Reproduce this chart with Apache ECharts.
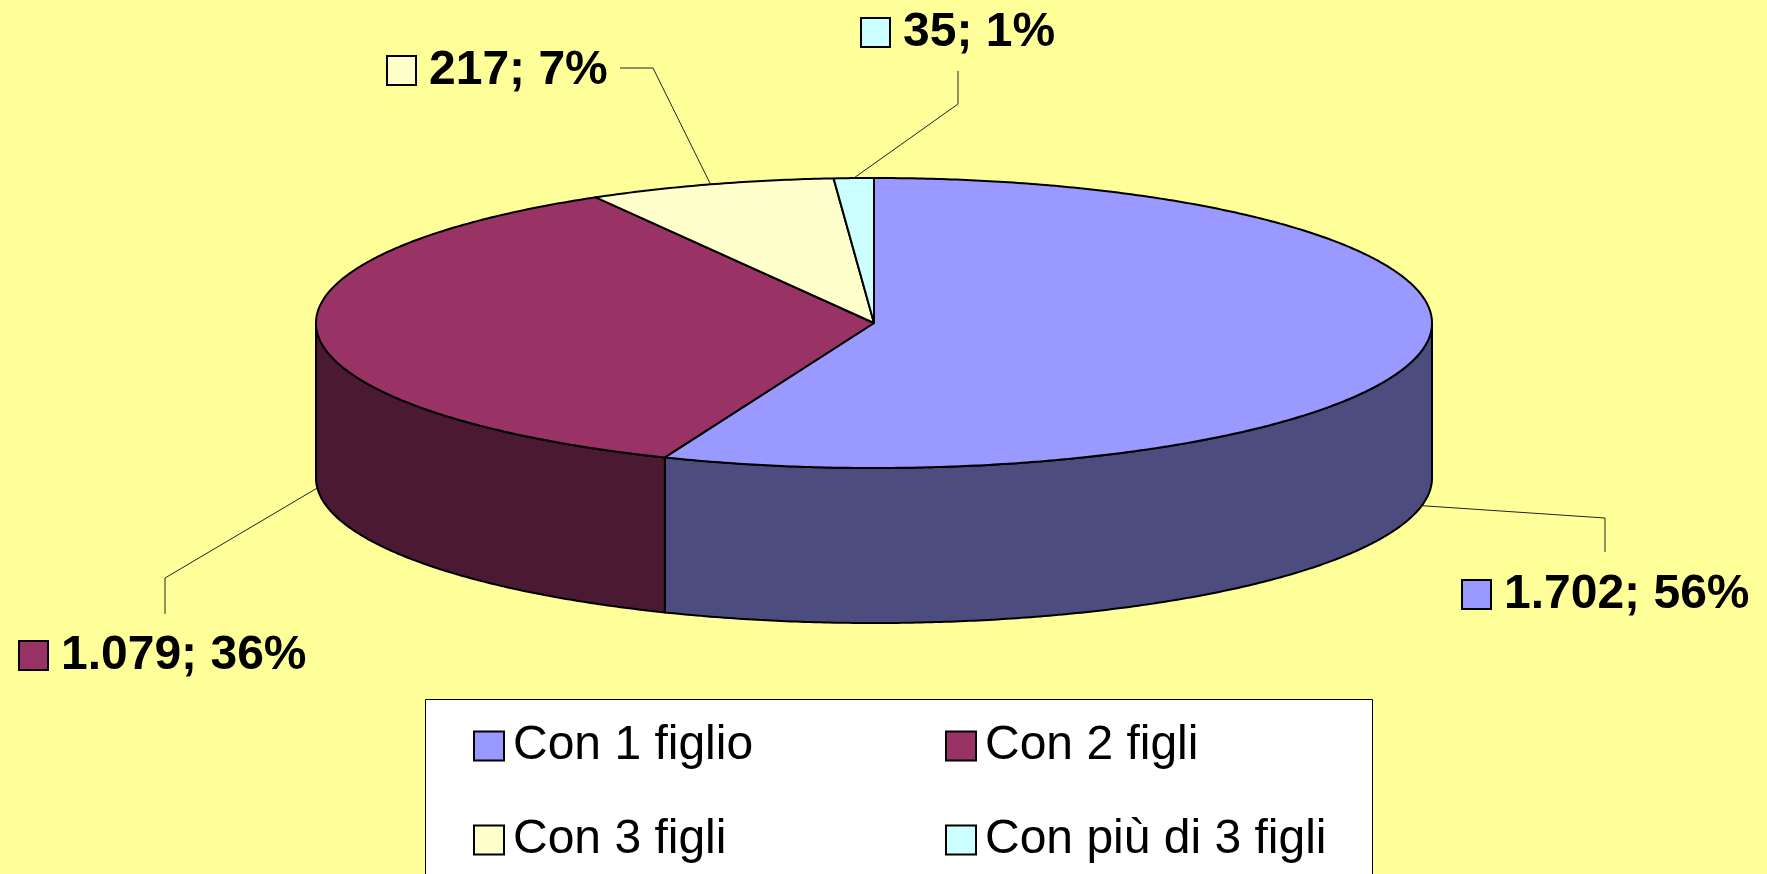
<!DOCTYPE html>
<html>
<head>
<meta charset="utf-8">
<script src="https://cdn.jsdelivr.net/npm/echarts@6/dist/echarts.min.js"></script>
<style>
html,body{margin:0;padding:0;background:#FFFF99;}
#chart{width:1767px;height:874px;}
</style>
</head>
<body>
<div id="chart"></div>
<script>
// ---- data ----
const categories = ['Con 1 figlio', 'Con 2 figli', 'Con 3 figli', 'Con più di 3 figli'];
const values = [1702, 1079, 217, 35];

// ---- styles ----
const topColors = ['#9999FF', '#993366', '#FFFFCC', '#CCFFFF'];
const sideColors = ['#4C4C7F', '#4C1933', '#7F7F66', '#667F7F'];
const FONT = '"Liberation Sans", Arial, Helvetica, sans-serif';

// ---- layout ----
const PIE = { cx: 874, cy: 323, rx: 558, ry: 145, depth: 155 };
const LABEL_LAYOUT = [
  { elbow: [1605, 518], end: [1605, 552], x: 1461, y: 595 },
  { elbow: [165, 578], end: [165, 614], x: 18, y: 656 },
  { elbow: [653, 68], end: [620, 68], x: 386, y: 71 },
  { elbow: [958, 104], end: [958, 71], x: 860, y: 33 }
];

const total = values.reduce((a, b) => a + b, 0);
const startAngles = [];
{ let acc = 0; values.forEach(v => { startAngles.push(acc / total * 360); acc += v; }); }

function pt(deg, dy) {
  const r = deg * Math.PI / 180;
  return [PIE.cx + PIE.rx * Math.sin(r), PIE.cy - PIE.ry * Math.cos(r) + (dy || 0)];
}
function arc(a0, a1, dy) {
  const pts = [];
  const n = Math.max(2, Math.ceil(Math.abs(a1 - a0) / 0.5));
  for (let i = 0; i <= n; i++) pts.push(pt(a0 + (a1 - a0) * i / n, dy));
  return pts;
}
function fmt(v) { return String(v).replace(/\B(?=(\d{3})+(?!\d))/g, '.'); }

function makeRender(idx) {
  return function (params, api) {
    const v = api.value(0);
    const a0 = startAngles[idx];
    const a1 = a0 + v / total * 360;
    const children = [];
    // side (front half only: 90..270 degrees clockwise from top)
    const s0 = Math.max(a0, 90), s1 = Math.min(a1, 270);
    if (s0 < s1) {
      const pts = arc(s0, s1, 0).concat(arc(s1, s0, PIE.depth));
      children.push({
        type: 'polygon', shape: { points: pts },
        style: { fill: sideColors[idx], stroke: '#000', lineWidth: 2, lineJoin: 'round' }
      });
    }
    // top face
    const topPts = [[PIE.cx, PIE.cy]].concat(arc(a0, a1, 0));
    children.push({
      type: 'polygon', shape: { points: topPts },
      style: { fill: topColors[idx], stroke: '#000', lineWidth: 2, lineJoin: 'round' }
    });
    // leader line
    const mid = (a0 + a1) / 2;
    const front = Math.cos(mid * Math.PI / 180) < 0;
    const anchor = pt(mid, front ? PIE.depth : 0);
    const L = LABEL_LAYOUT[idx];
    children.push({
      type: 'polyline', shape: { points: [anchor, L.elbow, L.end] },
      style: { stroke: '#222', lineWidth: 1, fill: null }
    });
    // label marker + text
    children.push({
      type: 'rect', shape: { x: L.x + 1, y: L.y - 15, width: 29, height: 29 },
      style: { fill: topColors[idx], stroke: '#000', lineWidth: 2 }
    });
    const pct = Math.round(v / total * 100);
    children.push({
      type: 'text',
      style: {
        text: fmt(v) + '; ' + pct + '%',
        x: L.x + 43, y: L.y,
        fill: '#000',
        font: 'bold 48px ' + FONT,
        align: 'left', verticalAlign: 'middle',
        textAlign: 'left', textVerticalAlign: 'middle'
      }
    });
    return { type: 'group', children: children };
  };
}

const series = categories.map((name, i) => ({
  type: 'custom',
  name: name,
  coordinateSystem: 'none',
  renderItem: makeRender(i),
  data: [[values[i]]],
  itemStyle: { color: topColors[i], borderColor: '#000', borderWidth: 2 },
  silent: true
}));

const legendCommon = {
  orient: 'vertical',
  icon: 'rect',
  itemWidth: 30,
  itemHeight: 29,
  itemGap: 46,
  padding: 0,
  selectedMode: false,
  itemStyle: { borderColor: '#000', borderWidth: 2 },
  textStyle: { fontFamily: FONT, fontSize: 48, color: '#000', lineHeight: 47, padding: [0, 0, 0, 4] }
};

const option = {
  animation: false,
  backgroundColor: '#FFFF99',
  color: topColors,
  graphic: [{
    type: 'rect', left: 425, top: 699, z: -10,
    shape: { width: 947, height: 220 },
    style: { fill: '#FFFFFF', stroke: '#000', lineWidth: 1 }
  }],
  legend: [
    Object.assign({}, legendCommon, { left: 473, top: 722, data: [categories[0], categories[2]] }),
    Object.assign({}, legendCommon, { left: 945, top: 722, data: [categories[1], categories[3]] })
  ],
  series: series
};

const chart = echarts.init(document.getElementById('chart'), null, { renderer: 'canvas' });
chart.setOption(option);
</script>
</body>
</html>
